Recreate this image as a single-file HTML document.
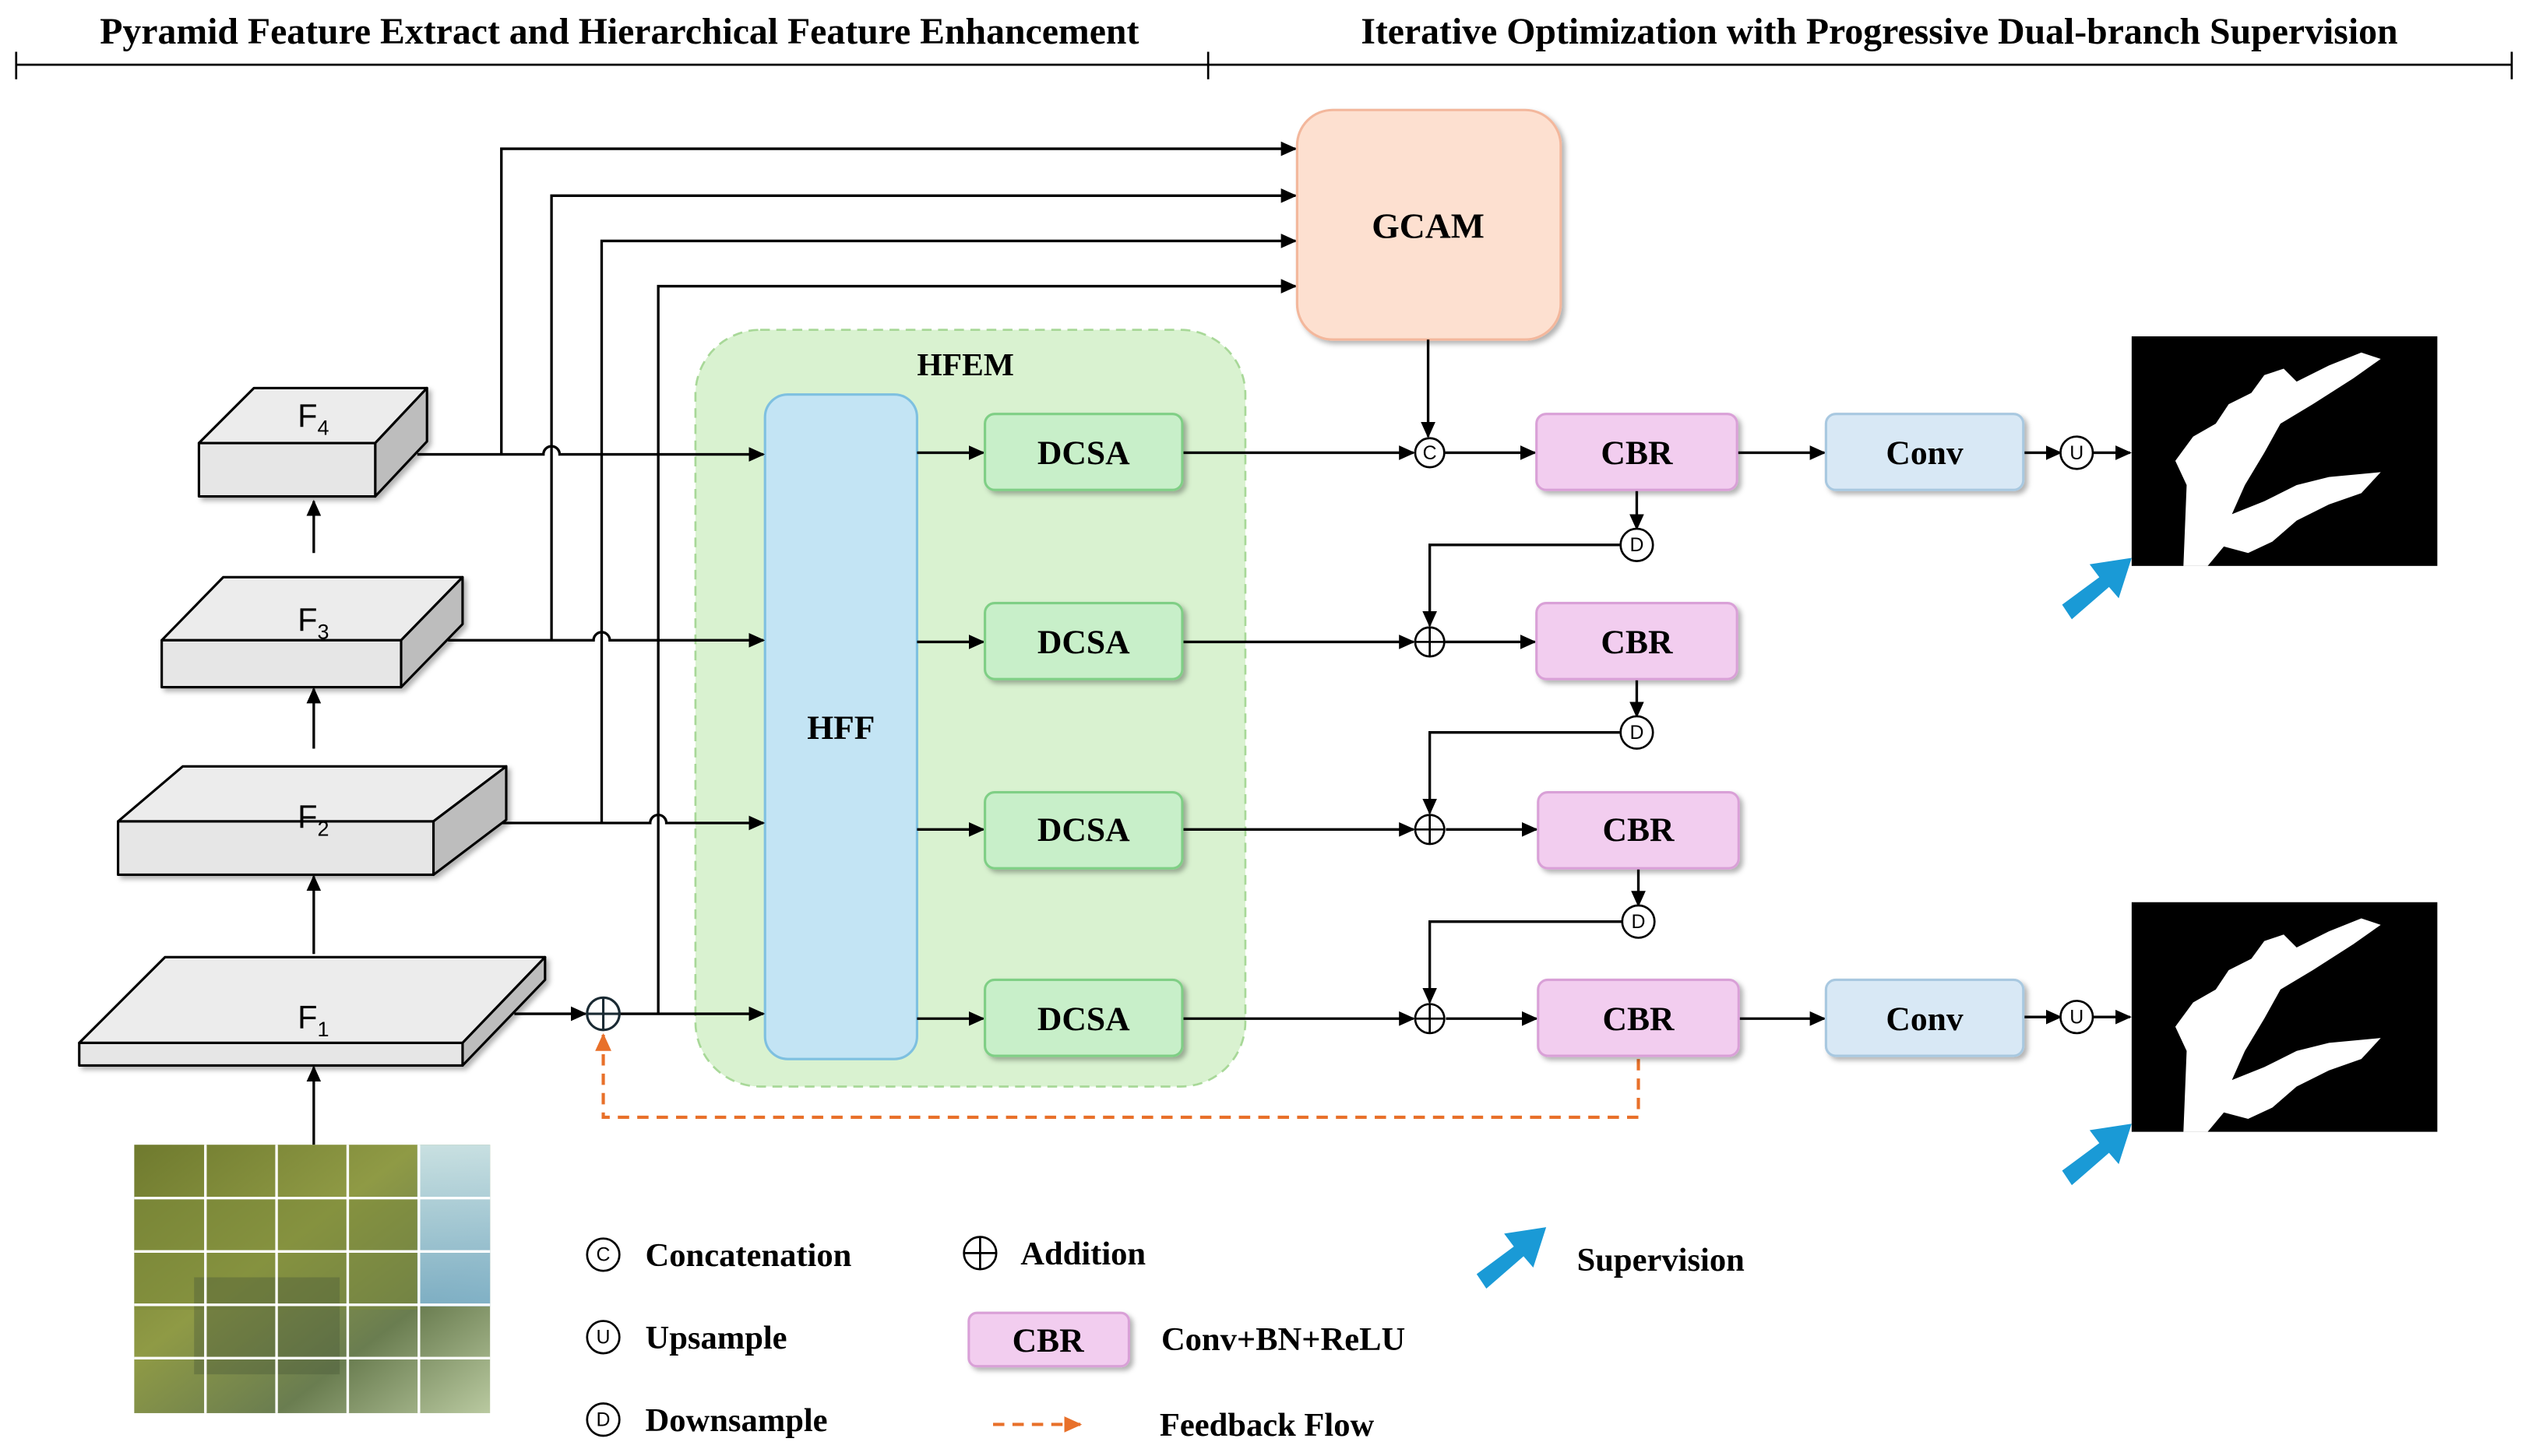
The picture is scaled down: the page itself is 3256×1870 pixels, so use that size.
<!DOCTYPE html>
<html><head><meta charset="utf-8"><style>
html,body{margin:0;padding:0;background:#fff;}
svg{display:block}
.t{font-family:"Liberation Serif",serif;font-weight:bold;}
.s{font-family:"Liberation Sans",sans-serif;}
</style></head><body>
<svg width="3256" height="1870" viewBox="0 0 1568 900.5" xmlns="http://www.w3.org/2000/svg">
<defs>
<marker id="a" markerWidth="10" markerHeight="10" refX="9" refY="5" orient="auto" markerUnits="userSpaceOnUse"><path d="M0,0.5 L10,5 L0,9.5z" fill="#000"/></marker>
<marker id="o" markerWidth="12" markerHeight="12" refX="10" refY="6" orient="auto" markerUnits="userSpaceOnUse"><path d="M0,1 L11,6 L0,11z" fill="#e8702a"/></marker>
<linearGradient id="ph" x1="0" y1="0" x2="1" y2="1"><stop offset="0" stop-color="#6f7a2e"/><stop offset="0.4" stop-color="#8f9a45"/><stop offset="0.7" stop-color="#6a7d50"/><stop offset="1" stop-color="#b9c9a0"/></linearGradient>
<linearGradient id="sky" x1="0" y1="0" x2="0" y2="1"><stop offset="0" stop-color="#cfe8f2"/><stop offset="1" stop-color="#7fb3cf"/></linearGradient>
<filter id="sh" x="-10%" y="-10%" width="130%" height="130%"><feDropShadow dx="2" dy="2" stdDeviation="1.5" flood-color="#000" flood-opacity="0.3"/></filter>
</defs>

<text class="t" x="383" y="27" font-size="23" text-anchor="middle">Pyramid Feature Extract and Hierarchical Feature Enhancement</text>
<text class="t" x="1162" y="27" font-size="23" text-anchor="middle">Iterative Optimization with Progressive Dual-branch Supervision</text>
<g stroke="#000" stroke-width="1.3">
<line x1="10" y1="40" x2="1553" y2="40"/>
<line x1="10" y1="32" x2="10" y2="49"/><line x1="747" y1="32" x2="747" y2="49"/><line x1="1553" y1="32" x2="1553" y2="49"/>
</g>

<rect x="430" y="204" width="340" height="468" rx="40" fill="#d9f2d0" stroke="#a8d898" stroke-width="1.3" stroke-dasharray="6,4"/>
<text class="t" x="597" y="232" font-size="20" text-anchor="middle">HFEM</text>
<rect x="473" y="244" width="94" height="411" rx="14" fill="#c3e4f4" stroke="#7ec0e0" stroke-width="1.5"/>
<text class="t" x="520" y="457" font-size="21" text-anchor="middle">HFF</text>

<g stroke="#000" stroke-width="1.6" fill="none">
<path d="M310,281 V92 H801" marker-end="url(#a)"/>
<path d="M341,396 V121 H801" marker-end="url(#a)"/>
<path d="M372,509 V149 H801" marker-end="url(#a)"/>
<path d="M407,627 V177 H801" marker-end="url(#a)"/>
<path d="M258,281 H336 A5,5 0 0 1 346,281 H472" marker-end="url(#a)"/>
<path d="M277,396 H367 A5,5 0 0 1 377,396 H472" marker-end="url(#a)"/>
<path d="M300,509 H402 A5,5 0 0 1 412,509 H472" marker-end="url(#a)"/>
<path d="M318,627 H362" marker-end="url(#a)"/>
<path d="M383,627 H472" marker-end="url(#a)"/>
<path d="M194,342 V310" marker-end="url(#a)"/>
<path d="M194,463 V426" marker-end="url(#a)"/>
<path d="M194,590 V542" marker-end="url(#a)"/>
<path d="M194,708 V660" marker-end="url(#a)"/>
</g>
<circle cx="373" cy="627" r="10" fill="none" stroke="#1a2a33" stroke-width="1.5"/>
<path d="M363,627 H383 M373,617 V637" stroke="#1a2a33" stroke-width="1.5"/>

<g stroke="#000" stroke-width="1.5" stroke-linejoin="round" filter="url(#sh)">
<path d="M123,274 L157,240 H264 L232,274z" fill="#ececec"/>
<path d="M232,274 L264,240 V273 L232,307z" fill="#bdbdbd"/>
<rect x="123" y="274" width="109" height="33" fill="#e6e6e6"/>
<path d="M100,396 L138,357 H286 L248,396z" fill="#ececec"/>
<path d="M248,396 L286,357 V386 L248,425z" fill="#bdbdbd"/>
<rect x="100" y="396" width="148" height="29" fill="#e6e6e6"/>
<path d="M73,508 L113,474 H313 L268,508z" fill="#ececec"/>
<path d="M268,508 L313,474 V507 L268,541z" fill="#bdbdbd"/>
<rect x="73" y="508" width="195" height="33" fill="#e6e6e6"/>
<path d="M49,645 L102,592 H337 L286,645z" fill="#ececec"/>
<path d="M286,645 L337,592 V606 L286,659z" fill="#bdbdbd"/>
<rect x="49" y="645" width="237" height="14" fill="#e6e6e6"/>
</g>
<g class="s" font-size="20">
<text x="184" y="264">F<tspan font-size="13" dy="5">4</tspan></text>
<text x="184" y="390">F<tspan font-size="13" dy="5">3</tspan></text>
<text x="184" y="512">F<tspan font-size="13" dy="5">2</tspan></text>
<text x="184" y="636">F<tspan font-size="13" dy="5">1</tspan></text>
</g>

<rect x="83" y="708" width="220" height="166" fill="url(#ph)"/>
<rect x="258" y="708" width="45" height="100" fill="url(#sky)" opacity="0.9"/>
<rect x="83" y="740" width="175" height="70" fill="#7c8a3a" opacity="0.5"/>
<rect x="120" y="790" width="90" height="60" fill="#4a5a3a" opacity="0.4"/>
<g stroke="#fff" stroke-width="1.6">
<line x1="127" y1="708" x2="127" y2="874"/><line x1="171" y1="708" x2="171" y2="874"/><line x1="215" y1="708" x2="215" y2="874"/><line x1="259" y1="708" x2="259" y2="874"/>
<line x1="83" y1="741" x2="303" y2="741"/><line x1="83" y1="774" x2="303" y2="774"/><line x1="83" y1="807" x2="303" y2="807"/><line x1="83" y1="840" x2="303" y2="840"/>
</g>

<rect x="802" y="68" width="163" height="142" rx="22" fill="#fde0d0" stroke="#f3b79c" stroke-width="1.5" filter="url(#sh)"/>
<text class="t" x="883" y="147" font-size="22" text-anchor="middle">GCAM</text>

<g stroke="#000" stroke-width="1.6" fill="none">
<path d="M567,280 H608" marker-end="url(#a)"/>
<path d="M567,397 H608" marker-end="url(#a)"/>
<path d="M567,513 H608" marker-end="url(#a)"/>
<path d="M567,630 H608" marker-end="url(#a)"/>
<path d="M731,280 H874" marker-end="url(#a)"/>
<path d="M731,397 H874" marker-end="url(#a)"/>
<path d="M731,513 H874" marker-end="url(#a)"/>
<path d="M731,630 H874" marker-end="url(#a)"/>
<path d="M883,210 V270" marker-end="url(#a)"/>
<path d="M893,280 H949" marker-end="url(#a)"/>
<path d="M893,397 H949" marker-end="url(#a)"/>
<path d="M894,513 H950" marker-end="url(#a)"/>
<path d="M894,630 H950" marker-end="url(#a)"/>
<path d="M1074,280 H1128" marker-end="url(#a)"/>
<path d="M1075,630 H1128" marker-end="url(#a)"/>
<path d="M1251,280 H1274" marker-end="url(#a)"/>
<path d="M1251,629 H1274" marker-end="url(#a)"/>
<path d="M1294,280 H1317" marker-end="url(#a)"/>
<path d="M1294,629 H1317" marker-end="url(#a)"/>
<path d="M1012,303 V327" marker-end="url(#a)"/>
<path d="M1012,420 V443" marker-end="url(#a)"/>
<path d="M1013,537 V560" marker-end="url(#a)"/>
<path d="M1002,337 H884 V387" marker-end="url(#a)"/>
<path d="M1002,453 H884 V503" marker-end="url(#a)"/>
<path d="M1003,570 H884 V620" marker-end="url(#a)"/>
</g>
<path d="M1013,655 V691 H373 V640" stroke="#e8702a" stroke-width="2" fill="none" stroke-dasharray="7,5" marker-end="url(#o)"/>

<g filter="url(#sh)" stroke-width="1.5">
<rect x="609" y="256" width="122" height="47" rx="6" fill="#c8efc9" stroke="#7fcf85"/>
<rect x="609" y="373" width="122" height="47" rx="6" fill="#c8efc9" stroke="#7fcf85"/>
<rect x="609" y="490" width="122" height="47" rx="6" fill="#c8efc9" stroke="#7fcf85"/>
<rect x="609" y="606" width="122" height="47" rx="6" fill="#c8efc9" stroke="#7fcf85"/>
<rect x="950" y="256" width="124" height="47" rx="6" fill="#f2cdef" stroke="#d9a0d7"/>
<rect x="950" y="373" width="124" height="47" rx="6" fill="#f2cdef" stroke="#d9a0d7"/>
<rect x="951" y="490" width="124" height="47" rx="6" fill="#f2cdef" stroke="#d9a0d7"/>
<rect x="951" y="606" width="124" height="47" rx="6" fill="#f2cdef" stroke="#d9a0d7"/>
<rect x="1129" y="256" width="122" height="47" rx="6" fill="#d8e8f5" stroke="#a8c8e0"/>
<rect x="1129" y="606" width="122" height="47" rx="6" fill="#d8e8f5" stroke="#a8c8e0"/>
<rect x="599" y="812" width="99" height="33" rx="5" fill="#f2cdef" stroke="#d9a0d7"/>
</g>
<g class="t" font-size="21" text-anchor="middle">
<text x="670" y="287">DCSA</text><text x="670" y="404">DCSA</text><text x="670" y="520">DCSA</text><text x="670" y="637">DCSA</text>
<text x="1012" y="287">CBR</text><text x="1012" y="404">CBR</text><text x="1013" y="520">CBR</text><text x="1013" y="637">CBR</text>
<text x="1190" y="287">Conv</text><text x="1190" y="637">Conv</text>
<text x="648" y="836">CBR</text>
</g>

<g fill="#fff" stroke="#000" stroke-width="1.3">
<circle cx="884" cy="280" r="9"/><circle cx="884" cy="397" r="9"/><circle cx="884" cy="513" r="9"/><circle cx="884" cy="630" r="9"/>
<circle cx="1284" cy="280" r="10"/><circle cx="1284" cy="629" r="10"/>
<circle cx="1012" cy="337" r="10"/><circle cx="1012" cy="453" r="10"/><circle cx="1013" cy="570" r="10"/>
<circle cx="373" cy="776" r="10"/><circle cx="373" cy="827" r="10"/><circle cx="373" cy="878" r="10"/>
<circle cx="606" cy="775" r="10"/>
</g>
<path d="M875,397 H893 M884,388 V406 M875,513 H893 M884,504 V522 M875,630 H893 M884,621 V639 M596,775 H616 M606,765 V785" stroke="#000" stroke-width="1.3"/>
<g class="s" font-size="12" text-anchor="middle">
<text x="884" y="284">C</text><text x="1284" y="284">U</text><text x="1284" y="633">U</text>
<text x="1012" y="341">D</text><text x="1012" y="457">D</text><text x="1013" y="574">D</text>
<text x="373" y="780">C</text><text x="373" y="831">U</text><text x="373" y="882">D</text>
</g>

<g>
<rect x="1318" y="208" width="189" height="142" fill="#000"/>
<path fill="#fff" d="M1350,350 L1352,300 L1345,285 L1356,270 L1370,262 L1378,250 L1392,243 L1400,232 L1412,228 L1420,236 L1440,226 L1460,218 L1472,222 L1455,234 L1430,250 L1410,262 L1400,280 L1388,300 L1380,318 L1400,310 L1420,300 L1440,295 L1472,292 L1460,305 L1440,312 L1420,322 L1405,335 L1390,342 L1375,338 L1365,350z"/>
<rect x="1318" y="558" width="189" height="142" fill="#000"/>
<path fill="#fff" d="M1350,700 L1352,650 L1345,635 L1356,620 L1370,612 L1378,600 L1392,593 L1400,582 L1412,578 L1420,586 L1440,576 L1460,568 L1472,572 L1455,584 L1430,600 L1410,612 L1400,630 L1388,650 L1380,668 L1400,660 L1420,650 L1440,645 L1472,642 L1460,655 L1440,662 L1420,672 L1405,685 L1390,692 L1375,688 L1365,700z"/>
</g>

<g fill="#1a9ad6">
<path d="M1275,374 L1298,357 L1292,349 L1318,345 L1310,370 L1304,363 L1281,383z"/>
<path d="M1275,724 L1298,707 L1292,699 L1318,695 L1310,720 L1304,713 L1281,733z"/>
<path d="M913,788 L936,771 L930,763 L956,759 L948,784 L942,777 L919,797z"/>
</g>

<g class="t" font-size="20.5">
<text x="399" y="783">Concatenation</text>
<text x="399" y="834">Upsample</text>
<text x="399" y="885">Downsample</text>
<text x="631" y="782">Addition</text>
<text x="718" y="835">Conv+BN+ReLU</text>
<text x="717" y="888">Feedback Flow</text>
<text x="975" y="786">Supervision</text>
</g>
<path d="M614,881 H668" stroke="#e8702a" stroke-width="2" stroke-dasharray="7,5" marker-end="url(#o)"/>
</svg>
</body></html>
